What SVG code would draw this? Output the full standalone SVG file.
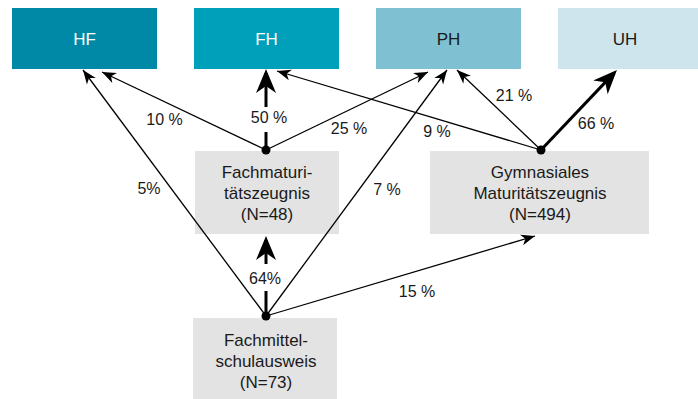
<svg xmlns="http://www.w3.org/2000/svg" width="698" height="399" viewBox="0 0 698 399">
<style>
  .t { font-family: "Liberation Sans", Arial, sans-serif; font-size: 17px; text-anchor: middle; }
  .w { fill: #ffffff; }
  .d { fill: #1a1a1a; }
  .lbl { font-family: "Liberation Sans", Arial, sans-serif; font-size: 16px; text-anchor: middle; fill: #1a1a1a; }
  .grey { fill: #e3e3e3; }
  .thin { stroke: #000; stroke-width: 1.3; fill: none; marker-end: url(#ah); }
  .thick { stroke: #000; stroke-width: 3; fill: none; marker-end: url(#ahb); }
  .thickseg { stroke: #000; stroke-width: 3; fill: none; }
</style>
<defs>
  <marker id="ah" markerUnits="userSpaceOnUse" orient="auto" refX="14" refY="0" markerWidth="16" markerHeight="14" viewBox="-1 -7 16 14" overflow="visible">
    <path d="M14,0 L0,-5.5 L4,0 L0,5.5 z" fill="#000"/>
  </marker>
  <marker id="ahb" markerUnits="userSpaceOnUse" orient="auto" refX="20" refY="0" markerWidth="26" markerHeight="22" viewBox="-1 -11 26 22" overflow="visible">
    <path d="M24,0 L0,-10 L7,0 L0,10 z" fill="#000"/>
  </marker>
</defs>
<rect width="698" height="399" fill="#ffffff"/>

<g id="HF"><rect x="12" y="8" width="145" height="61" fill="#0089a7"/><text class="t w" x="84.5" y="45">HF</text></g>
<g id="FH"><rect x="194" y="8" width="145" height="61" fill="#009fba"/><text class="t w" x="266.5" y="45">FH</text></g>
<g id="PH"><rect x="376" y="8" width="145" height="61" fill="#7fc1d3"/><text class="t d" x="448.5" y="45">PH</text></g>
<g id="UH"><rect x="558" y="8" width="140" height="61" fill="#cfe5ed"/><text class="t d" x="625" y="45">UH</text></g>

<g id="FMZ"><rect class="grey" x="195" y="151" width="144" height="83"/>
  <text class="t d" x="267" y="178">Fachmaturi-</text>
  <text class="t d" x="267" y="199">tätszeugnis</text>
  <text class="t d" x="267" y="220">(N=48)</text></g>
<g id="GMZ"><rect class="grey" x="430" y="151" width="219" height="83"/>
  <text class="t d" x="540" y="178">Gymnasiales</text>
  <text class="t d" x="540" y="199">Maturitätszeugnis</text>
  <text class="t d" x="540" y="220">(N=494)</text></g>
<g id="FMS"><rect class="grey" x="193" y="318" width="144" height="81"/>
  <text class="t d" x="266" y="346">Fachmittel-</text>
  <text class="t d" x="266" y="367">schulausweis</text>
  <text class="t d" x="266" y="388">(N=73)</text></g>

<g id="connectors">
  <!-- from FMS -->
  <line class="thin" x1="266" y1="316" x2="83" y2="70"/>
  <line class="thin" x1="266" y1="316" x2="447" y2="70"/>
  <line class="thin" x1="266" y1="316" x2="535" y2="236"/>
  <line class="thickseg" x1="266" y1="316" x2="266" y2="291"/>
  <line class="thick" x1="266" y1="264" x2="266" y2="240"/>
  <!-- from FMZ -->
  <line class="thin" x1="266" y1="150" x2="102" y2="72"/>
  <line class="thin" x1="266" y1="150" x2="428" y2="72"/>
  <line class="thickseg" x1="266" y1="150" x2="266" y2="132"/>
  <line class="thick" x1="266" y1="107" x2="266" y2="73"/>
  <!-- from GMZ -->
  <line class="thin" x1="541" y1="150" x2="277" y2="71"/>
  <line class="thin" x1="541" y1="150" x2="457" y2="70"/>
  <line class="thick" x1="541" y1="150" x2="614.2" y2="72.9"/>
  <circle cx="266" cy="316" r="4.5" fill="#000"/>
  <circle cx="266" cy="150" r="4.5" fill="#000"/>
  <circle cx="541" cy="150" r="4.5" fill="#000"/>
  <text class="lbl" x="164.5" y="125">10 %</text>
  <text class="lbl" x="269" y="123">50 %</text>
  <text class="lbl" x="349" y="134">25 %</text>
  <text class="lbl" x="437" y="137">9 %</text>
  <text class="lbl" x="514" y="101">21 %</text>
  <text class="lbl" x="596" y="129">66 %</text>
  <text class="lbl" x="149" y="194">5%</text>
  <text class="lbl" x="387" y="195">7 %</text>
  <text class="lbl" x="265" y="284">64%</text>
  <text class="lbl" x="417" y="297">15 %</text>
</g>
</svg>
